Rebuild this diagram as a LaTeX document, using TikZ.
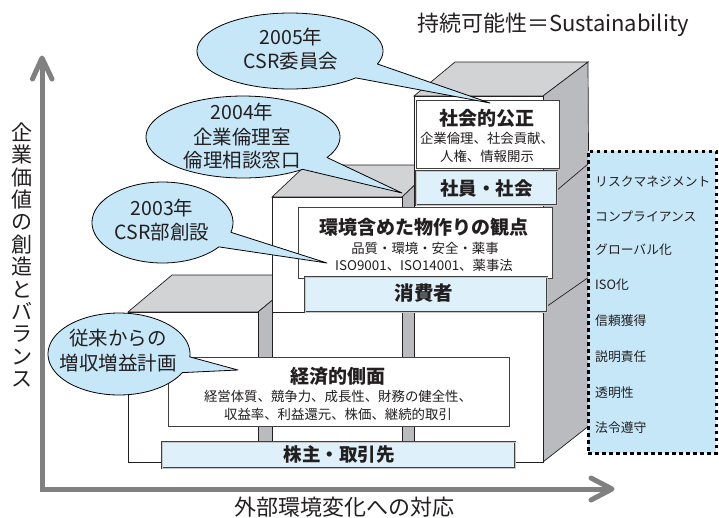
\documentclass[tikz,border=0pt]{standalone}
\usepackage{fontspec}
\setmainfont{Noto Sans CJK JP}
\newcommand\setfs[2]{\fontsize{#1}{#2}\selectfont}
\definecolor{bluecall}{HTML}{C6E7F8}
\definecolor{bluebar}{HTML}{DEF1FB}
\definecolor{topgray}{HTML}{D2D3D5}
\definecolor{sidegray}{HTML}{B9BBBE}
\definecolor{axisgray}{HTML}{808080}
\definecolor{txt}{HTML}{231F20}
\begin{document}
\begin{tikzpicture}[x=1pt,y=-1pt,
 face/.style={draw=txt,line width=0.7pt,line join=miter},
 lbox/.style={draw=black!75,fill=white,line width=0.8pt,inner sep=0pt,outer sep=0pt},
 bar/.style={draw=black!75,fill=bluebar,line width=0.6pt,double=black!22,double distance=0.8pt,inner sep=0pt,outer sep=0pt},
 callout/.style={draw=black,fill=bluecall,line width=0.8pt,line join=round},
 ctext/.style={font=\setfs{19.5}{24},text=txt,inner sep=0pt},
 ttl/.style={font=\setfs{19}{22}\bfseries,text=txt,inner sep=0pt},
 subt/.style={font=\setfs{13.4}{16},text=txt,inner sep=0pt},
 bartxt/.style={font=\setfs{18.5}{22}\bfseries,text=txt,inner sep=0pt},
 item/.style={font=\setfs{12.8}{15},text=txt,anchor=west,inner sep=0pt},
 axis/.style={draw=axisgray,line width=5pt,line cap=round,line join=round},
]
\useasboundingbox (0,0) rectangle (719,517);

% ---------- column A (low, left)
\filldraw[face,fill=topgray] (128,312) -- (172,275) -- (303,275) -- (258,312) -- cycle;
\filldraw[face,fill=sidegray] (258,312) -- (303,275) -- (303,425) -- (258,462) -- cycle;
\filldraw[face,fill=white] (128,312) rectangle (258,462);
% ---------- column B (middle)
\filldraw[face,fill=topgray] (272,197) -- (306,165) -- (436,165) -- (402,197) -- cycle;
\filldraw[face,fill=sidegray] (402,197) -- (436,165) -- (436,434) -- (402,462) -- cycle;
\filldraw[face,fill=white] (272,197) rectangle (402,462);
% ---------- column C (high, right)
\filldraw[face,fill=topgray] (414,96) -- (455,62) -- (588,62) -- (543,96) -- cycle;
\filldraw[face,fill=sidegray] (543,96) -- (588,62) -- (590,425) -- (543,462) -- cycle;
\filldraw[face,fill=white] (414,96) rectangle (543,462);
% level lines
\draw[face] (272,312) -- (543,312);
\draw[face] (414,197) -- (543,197);
\draw[face] (543,309) -- (589,277);
\draw[face] (543,202) -- (588,164);

% ---------- label boxes
\node[lbox,minimum width=143pt,minimum height=68pt] (skbox) at (487.5,134) {};
\node[ttl] (sktitle) at (487,118) {社会的公正};
\node[subt] (sksub1) at (487,138) {企業倫理、社会貢献、};
\node[subt] (sksub2) at (487,156) {人権、情報開示};
\node[bar,minimum width=141pt,minimum height=34pt] (shabar) at (486.5,188) {};
\node[bartxt] (shatxt) at (486.5,188) {社員・社会};

\node[lbox,minimum width=254pt,minimum height=71pt] (kkbox) at (425,242.5) {};
\node[ttl] (kktitle) at (424,227) {環境含めた物作りの観点};
\node[subt] (kksub1) at (425,248) {品質・環境・安全・薬事};
\node[subt] (kksub2) at (424,265) {ISO9001、ISO14001、薬事法};
\node[bar,minimum width=242pt,minimum height=35pt] (shobar) at (426,294.5) {};
\node[bartxt,font=\setfs{19.5}{22}\bfseries] (shotxt) at (424,293.5) {消費者};

\node[lbox,minimum width=341pt,minimum height=69pt] (kzbox) at (338.5,391.5) {};
\node[ttl] (kztitle) at (338,376) {経済的側面};
\node[subt] (kzsub1) at (338,396) {経営体質、競争力、成長性、財務の健全性、};
\node[subt] (kzsub2) at (338,414) {収益率、利益還元、株価、継続的取引};
\node[bar,minimum width=353pt,minimum height=26pt] (kabar) at (338.5,455) {};
\node[bartxt] (katxt) at (339,454.5) {株主・取引先};

% ---------- callouts
\coordinate (t05) at (490,103);
\draw[callout] plot[domain=-20:315,samples=90] ({290+93*cos(\x)},{51-38*sin(\x)}) -- (t05) -- cycle;
\node[ctext] (c05a) at (291,37) {2005年};
\node[ctext] (c05b) at (291,61) {CSR委員会};

\coordinate (t04) at (402,193);
\draw[callout] plot[domain=-30:308,samples=90] ({243+97*cos(\x)},{137-41*sin(\x)}) -- (t04) -- cycle;
\node[ctext] (c04a) at (242,112) {2004年};
\node[ctext] (c04b) at (242,137) {企業倫理室};
\node[ctext] (c04c) at (242,160) {倫理相談窓口};

\coordinate (t03) at (327,263);
\draw[callout] plot[domain=-14:323,samples=90] ({162.5+70.5*cos(\x)},{222.5-40.5*sin(\x)}) -- (t03) -- cycle;
\node[ctext] (c03a) at (162,208) {2003年};
\node[ctext] (c03b) at (162,232) {CSR部創設};

\coordinate (t00) at (238,370);
\draw[callout] plot[domain=-4:333,samples=90] ({119+71*cos(\x)},{354-41*sin(\x)}) -- (t00) -- cycle;
\node[ctext] (c00a) at (118,338) {従来からの};
\node[ctext] (c00b) at (118,363) {増収増益計画};

% ---------- right dotted box
\node[draw=black,fill=bluecall,line width=3pt,dash pattern=on 3.5pt off 3.5pt,minimum width=128pt,minimum height=302pt,inner sep=0pt] (rbox) at (652,302) {};
\node[item] (i1) at (595,182) {リスクマネジメント};
\node[item] (i2) at (595,216.5) {コンプライアンス};
\node[item] (i3) at (595,250) {グローバル化};
\node[item] (i4) at (595,285) {ISO化};
\node[item] (i5) at (595,321) {信頼獲得};
\node[item] (i6) at (595,357) {説明責任};
\node[item] (i7) at (595,392.5) {透明性};
\node[item] (i8) at (595,428) {法令遵守};

% ---------- axes
\coordinate (O) at (42,489);
\coordinate (Ytip) at (42,58);
\coordinate (Xtip) at (612,489);
\coordinate (Yl) at (32.5,79);
\coordinate (Yr) at (52,79);
\coordinate (Xu) at (591,478);
\coordinate (Xd) at (591,500);
\draw[axis,line cap=butt,line join=miter] (Ytip) -- (O) -- (Xtip);
\draw[axis] (Yl) -- (Ytip) -- (Yr);
\draw[axis] (Xu) -- (Xtip) -- (Xd);

% ---------- labels
\node[font=\setfs{21}{22.4},align=center,text=txt,inner sep=0pt] (vlabel) at (22,255)
  {企\\業\\価\\値\\の\\創\\造\\と\\バ\\ラ\\ン\\ス};
\node[font=\setfs{22}{26},text=txt,inner sep=0pt] (hlabel) at (344.5,507) {外部環境変化への対応};
\node[font=\setfs{22}{26},text=txt,inner sep=0pt] (title) at (553,25) {持続可能性＝Sustainability};
\end{tikzpicture}
\end{document}
